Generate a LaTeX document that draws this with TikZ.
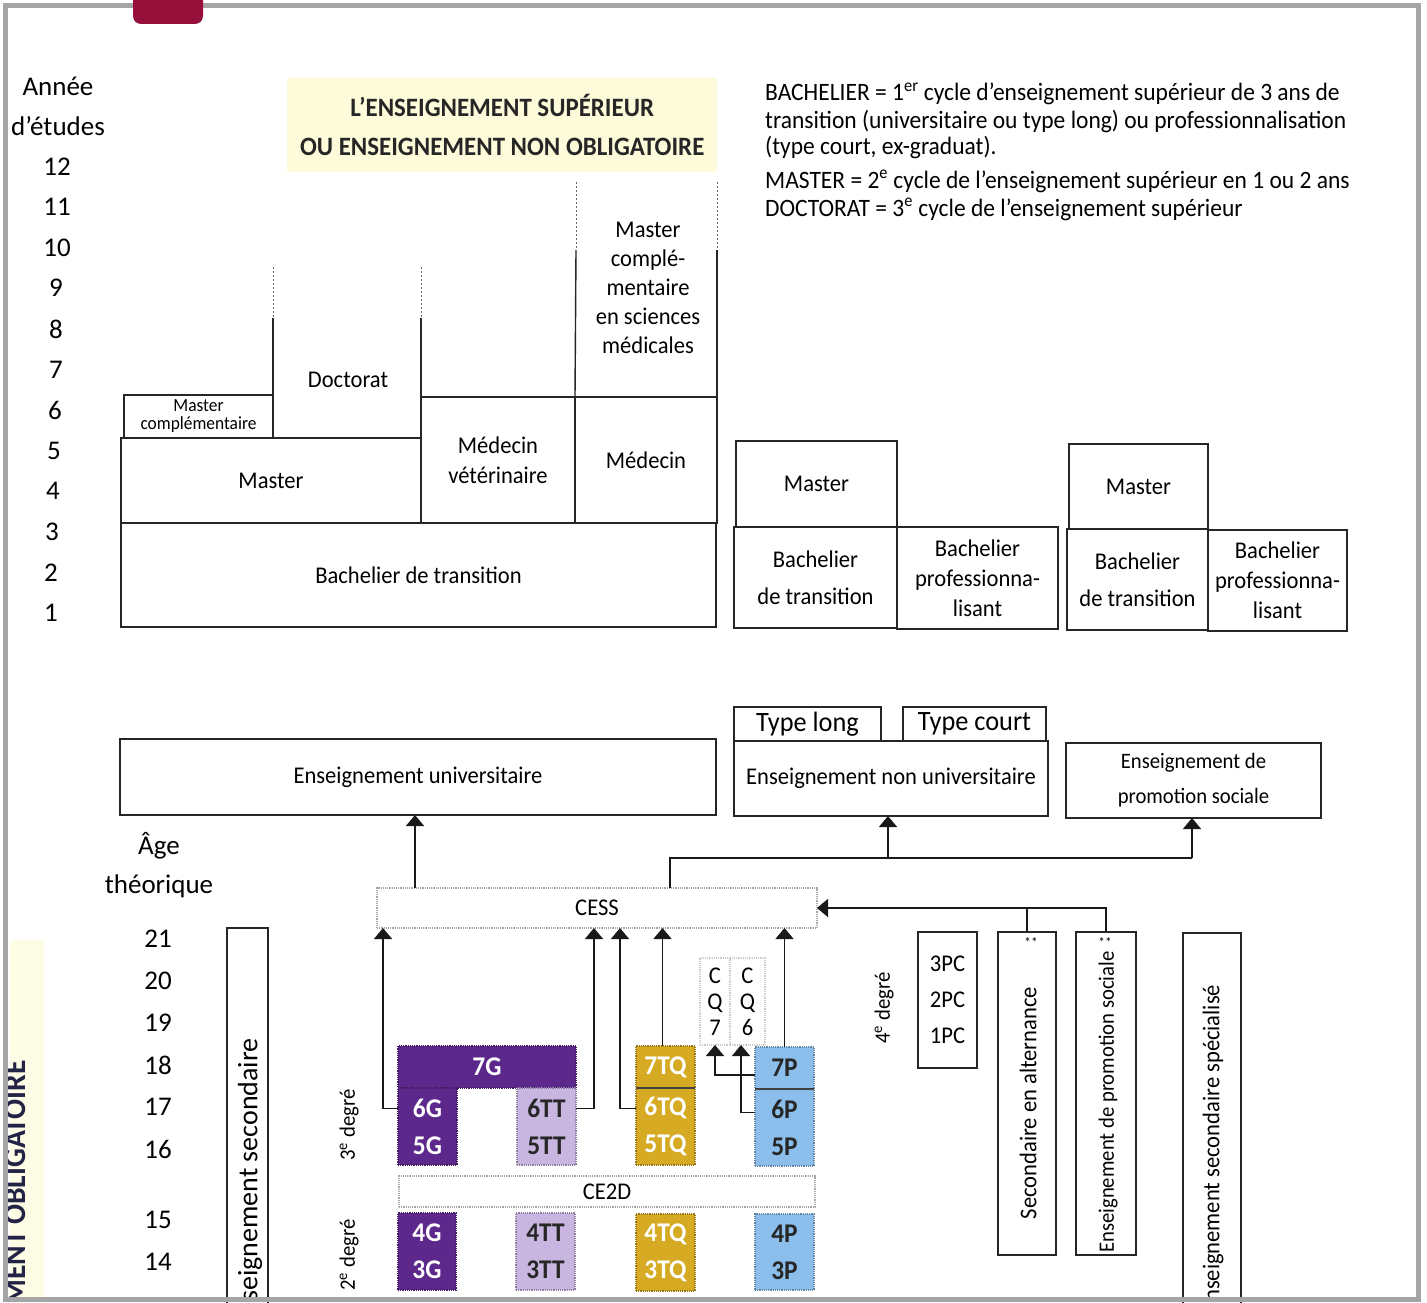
\documentclass[tikz,border=0pt]{standalone}
\usepackage{fontspec}
\setmainfont{Carlito}
\newfontfamily\condf[FakeStretch=0.94]{Carlito}
\usetikzlibrary{arrows.meta}
\newcommand\fs[2]{\fontsize{#1}{#2}\selectfont}
\newcommand\bx[7][]{\node[#1, anchor=north west, minimum width={(#4-#2)*1pt}, minimum height={(#5-#3)*1pt}] (#6) at (#2,#3) {#7};}
\definecolor{framec}{RGB}{165,165,165}
\definecolor{tabc}{RGB}{150,14,58}
\definecolor{titlec}{RGB}{253,251,218}
\definecolor{stripc}{RGB}{253,252,228}
\definecolor{cpurple}{RGB}{93,40,140}
\definecolor{clilac}{RGB}{200,182,224}
\definecolor{cgold}{RGB}{214,170,35}
\definecolor{cblue}{RGB}{140,190,235}
\definecolor{navyt}{RGB}{35,35,70}
\begin{document}
\begin{tikzpicture}[x=1pt,y=-1pt,
 box/.style={draw=black!85, line width=1.4pt, inner sep=0pt, outer sep=0pt, align=center, font=\condf\fs{24}{30}},
 lab/.style={inner sep=0pt, align=center, font=\condf\fs{24}{30}},
 axis/.style={inner sep=0pt, font=\fs{27}{40}},
 dotbox/.style={draw=black!35, densely dotted, line width=1.2pt, inner sep=0pt, outer sep=0pt, align=center, font=\condf\fs{24}{26}},
 blk/.style={draw=#1!70!black, densely dotted, line width=1.2pt, fill=#1, inner sep=0pt, outer sep=0pt, align=center, font=\condf\bfseries\fs{27}{37}},
 conn/.style={line width=1.5pt, black!90},
 arr/.style={conn, -{Triangle[width=18pt,length=11pt]}},
 dline/.style={line width=1pt, dash pattern=on 2pt off 2pt, black!60},
 sline/.style={line width=1.4pt, black!85},
 leg/.style={inner sep=0pt, anchor=base west, font=\condf\fs{25}{27}}]
\useasboundingbox (0,0) rectangle (1427,1303);
\fill[white] (0,0) rectangle (1427,1303);

% left strip
\begin{scope}
\clip (8,8) rectangle (1416,1298);
\fill[stripc] (10,940) rectangle (44,1303);
\node[rotate=90, anchor=base east, inner sep=0pt, font=\condf\bfseries\fs{31.5}{31.5}, text=navyt] (oblig) at (25,1060) {MENT OBLIGATOIRE};
\end{scope}

% axis labels top
\node[axis] (annee) at (58,86) {Année};
\node[axis] (detudes) at (58,126) {d’études};
\node[axis] (a12) at (57,167) {12};
\node[axis] (a11) at (57,207) {11};
\node[axis] (a10) at (57,248) {10};
\node[axis] (a9) at (56,288) {9};
\node[axis] (a8) at (56,329) {8};
\node[axis] (a7) at (56,370) {7};
\node[axis] (a6) at (55,410) {6};
\node[axis] (a5) at (54,451) {5};
\node[axis] (a4) at (53,491) {4};
\node[axis] (a3) at (52,532) {3};
\node[axis] (a2) at (51,573) {2};
\node[axis] (a1) at (51,613) {1};

% title
\bx[fill=titlec, inner sep=0pt, align=center, font=\condf\bfseries\fs{26.5}{39}, text=black!85]{287}{78}{717}{172}{title}{L’ENSEIGNEMENT SUPÉRIEUR\\OU ENSEIGNEMENT NON OBLIGATOIRE}

% legend
\node[leg] (l1) at (765,101) {BACHELIER = 1\textsuperscript{er} cycle d’enseignement supérieur de 3 ans de};
\node[leg] (l2) at (765,129) {transition (universitaire ou type long) ou professionnalisation};
\node[leg] (l3) at (765,155) {(type court, ex-graduat).};
\node[leg] (l4) at (765,188) {MASTER = 2\textsuperscript{e} cycle de l’enseignement supérieur en 1 ou 2 ans};
\node[leg] (l5) at (765,216) {DOCTORAT = 3\textsuperscript{e} cycle de l’enseignement supérieur};

% upper left block
\bx[box]{121}{523}{716}{627}{bt}{Bachelier de transition}
\bx[box]{121}{438}{421}{523}{ma}{Master}
\bx[box,font=\condf\fs{18.5}{18}]{124}{395}{273}{438}{mc}{Master\\complémentaire}
\bx[box]{421}{397}{575}{523}{vet}{Médecin\\vétérinaire}
\bx[box]{575}{397}{717}{523}{med}{Médecin}
\node[lab] (doc) at (348,380) {Doctorat};
\node[lab, font=\condf\fs{24}{29}] (mcsm) at (648,288) {Master\\complé-\\mentaire\\en sciences\\médicales};
\draw[dline] (273,267) -- (273,318);
\draw[sline] (273,318) -- (mc.north east) -- (mc.south east);
\draw[dline] (421,267) -- (421,318);
\draw[sline] (421,318) -- (vet.north west);
\draw[dline] (576,182) -- (576,250);
\draw[sline] (576,250) -- (med.north west);
\draw[dline] (717,182) -- (717,250);
\draw[sline] (717,250) -- (med.north east);

% upper right blocks
\bx[box]{736}{441}{897}{527}{m1}{Master}
\bx[box,font=\condf\fs{24}{37}]{734}{527}{897}{628}{bt1}{Bachelier\\de transition}
\bx[box]{897}{527}{1058}{629}{bp1}{Bachelier\\professionna-\\lisant}
\bx[box]{1069}{444}{1208}{529}{m2}{Master}
\bx[box,font=\condf\fs{24}{37}]{1067}{529}{1208}{630}{bt2}{Bachelier\\de transition}
\bx[box]{1208}{530}{1347}{631}{bp2}{Bachelier\\professionna-\\lisant}

% middle boxes
\bx[box]{120}{739}{716}{815}{eu}{Enseignement universitaire}
\bx[box]{734}{741}{1048}{816}{enu}{Enseignement non universitaire}
\bx[box,font=\condf\fs{28}{28}]{734}{707}{881}{741}{tl}{Type long}
\bx[box,font=\condf\fs{28}{28}]{903}{707}{1046}{741}{tc}{Type court}
\bx[box,font=\condf\fs{22}{35}]{1066}{743}{1321}{818}{eps}{Enseignement de\\promotion sociale}

% age axis
\node[axis] (age) at (159,846) {Âge};
\node[axis] (theo) at (159,886) {théorique};
\node[axis] (g21) at (158,939) {21};
\node[axis] (g20) at (158,981) {20};
\node[axis] (g19) at (158,1023) {19};
\node[axis] (g18) at (158,1065) {18};
\node[axis] (g17) at (158,1107) {17};
\node[axis] (g16) at (158,1149) {16};
\node[axis] (g15) at (158,1220) {15};
\node[axis] (g14) at (158,1262) {14};

% secondary column boxes
\bx[box]{227}{928}{268}{1312}{es}{}
\node[rotate=90, anchor=west, inner sep=0pt, font=\fs{28}{28}] (est) at (250,1302) {seignement secondaire};
\node[lab, rotate=90, font=\condf\fs{22}{22}] (d3) at (349,1125) {3\textsuperscript{e} degré};
\node[lab, rotate=90, font=\condf\fs{22}{22}] (d2) at (349,1255) {2\textsuperscript{e} degré};
\node[lab, rotate=90, font=\condf\fs{22}{22}] (d4) at (884,1008) {4\textsuperscript{e} degré};

% certificates
\bx[dotbox]{377}{888}{817}{928}{cess}{CESS}
\bx[dotbox]{399}{1176}{815}{1207}{ce2d}{CE2D}
\bx[dotbox,draw=black!20]{700}{958}{730}{1045}{cq7}{C\\Q\\7}
\bx[dotbox,draw=black!20]{730}{958}{765}{1045}{cq6}{C\\Q\\6}

% coloured blocks
\bx[blk=cpurple,text=white]{398}{1046}{576}{1088}{g7}{7G}
\bx[blk=cpurple,text=white]{398}{1088}{457}{1165}{g65}{6G\\5G}
\bx[blk=clilac,text=black!85]{517}{1088}{576}{1165}{tt65}{6TT\\5TT}
\bx[blk=cgold,text=white]{636}{1046}{695}{1088}{tq7}{7TQ}
\bx[blk=cgold,text=white]{636}{1088}{695}{1165}{tq65}{6TQ\\5TQ}
\bx[blk=cblue,text=black!85]{755}{1047}{814}{1089}{p7}{7P}
\bx[blk=cblue,text=black!85]{755}{1089}{814}{1166}{p65}{6P\\5P}
\bx[blk=cpurple,text=white]{398}{1213}{456}{1290}{g43}{4G\\3G}
\bx[blk=clilac,text=black!85]{516}{1213}{575}{1290}{tt43}{4TT\\3TT}
\bx[blk=cgold,text=white]{636}{1214}{695}{1291}{tq43}{4TQ\\3TQ}
\bx[blk=cblue,text=black!85]{755}{1214}{814}{1290}{p43}{4P\\3P}
\draw[line width=1.5pt, black!75] (tq7.south west) -- (tq7.south east);
\draw[line width=1.5pt, black!75] (p7.south west) -- (p7.south east);

% right column boxes
\bx[box,font=\condf\fs{24}{36}]{918}{932}{977}{1068}{pc}{3PC\\2PC\\1PC}
\bx[box]{998}{932}{1056}{1255}{alt}{}
\node[lab, rotate=90] (altt) at (1028,1103) {Secondaire en alternance};
\node[lab, font=\condf\fs{14}{14}] (st1) at (1031,943) {**};
\bx[box]{1076}{932}{1136}{1255}{epsv}{}
\node[lab, rotate=90, font=\condf\fs{22}{22}] (epst) at (1108,1102) {Enseignement de promotion sociale};
\node[lab, font=\condf\fs{14}{14}] (st2) at (1105,943) {**};
\bx[box]{1183}{933}{1241}{1312}{ess}{}
\node[lab, rotate=90, anchor=west] (esst) at (1213,1302) {nseignement secondaire spécialisé};

% connectors
\draw[arr] (415,0 |- cess.north) -- (415,0 |- eu.south);
\coordinate (jl) at (670,858);
\coordinate (jr) at (1192,858);
\draw[conn] (jl |- cess.north) -- (jl) -- (jr);
\draw[arr] (888,858) -- (888,0 |- enu.south);
\draw[arr] (jr) -- (jr |- eps.south);
\draw[arr] (epsv.north) |- (cess.east);
\draw[conn] (alt.north) -- (alt.north |- cess.east);
\draw[arr] ([yshift=18pt]g65.west) -| (383,0 |- cess.south);
\draw[arr] ([yshift=18pt]tt65.east) -| (594,0 |- cess.south);
\draw[arr] ([yshift=18pt]tq65.west) -| (620,0 |- cess.south);
\draw[arr] ([xshift=-3pt]tq7.north) -- ([xshift=-3pt]tq7.north |- cess.south);
\draw[arr] (p7.north) -- (p7.north |- cess.south);
\draw[arr] ([yshift=-7pt]p7.west) -| (cq7.south);
\draw[arr] ([yshift=15pt]p65.west) -| (741,0 |- cq6.south);

% frame and tab
\draw[framec, line width=5pt] (5.5,5.5) rectangle (1418.5,1299.5);
\fill[tabc, rounded corners=8pt] (133,-12) rectangle (203,24);
\end{tikzpicture}
\end{document}
